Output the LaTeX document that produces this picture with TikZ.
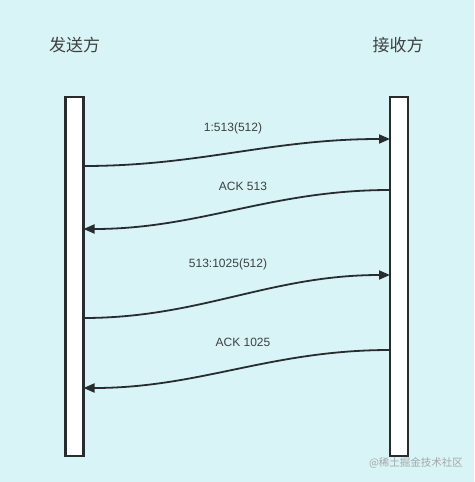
\documentclass[tikz,border=0pt]{standalone}
\usepackage{fontspec}
\setmainfont{Liberation Sans}
\newfontfamily\cjk{Noto Sans CJK SC}
\usetikzlibrary{arrows.meta,calc}
\definecolor{bgc}{RGB}{216,244,246}
\definecolor{ink}{RGB}{40,44,46}
\begin{document}
\begin{tikzpicture}[x=1pt,y=-1pt,
  lifebar/.style={draw=ink,line width=2.2pt,fill=white,minimum width=18pt,minimum height=359pt,inner sep=0pt},
  party/.style={font=\cjk\fontsize{17}{20}\selectfont,text=ink!90},
  msg/.style={draw=ink,line width=1.8pt,-{Triangle[length=11pt,width=9pt]}},
  lbl/.style={font=\fontsize{12}{14}\selectfont,text=ink!90}]
\fill[bgc] (0,0) rectangle (474,482);
\useasboundingbox (0,0) rectangle (474,482);
\node[lifebar] (snd) at (74.5,276.5) {};
\node[lifebar] (rcv) at (399,276.5) {};
\node[party] (sndname) at (74.5,45) {发送方};
\node[party] (rcvname) at (398,45) {接收方};
\coordinate (s1) at (83.5,166);
\coordinate (r1) at (390,139);
\coordinate (r2) at (390,190);
\coordinate (s2) at (83.5,229);
\coordinate (s3) at (83.5,318);
\coordinate (r3) at (390,275);
\coordinate (r4) at (390,350);
\coordinate (s4) at (83.5,388);
\draw[msg] (s1) .. controls (200,166) and (270,139) .. (r1);
\draw[msg] (r2) .. controls (270,190) and (200,229) .. (s2);
\draw[msg] (s3) .. controls (200,318) and (270,275) .. (r3);
\draw[msg] (r4) .. controls (270,350) and (200,388) .. (s4);
\node[lbl] (l1) at (233,128) {1:513(512)};
\node[lbl] (l2) at (243,186) {ACK 513};
\node[lbl] (l3) at (228,264) {513:1025(512)};
\node[lbl] (l4) at (243,342) {ACK 1025};
\node[font=\cjk\fontsize{10.5}{12}\selectfont,text=gray!70] (wm) at (416,463) {@稀土掘金技术社区};
\end{tikzpicture}
\end{document}
